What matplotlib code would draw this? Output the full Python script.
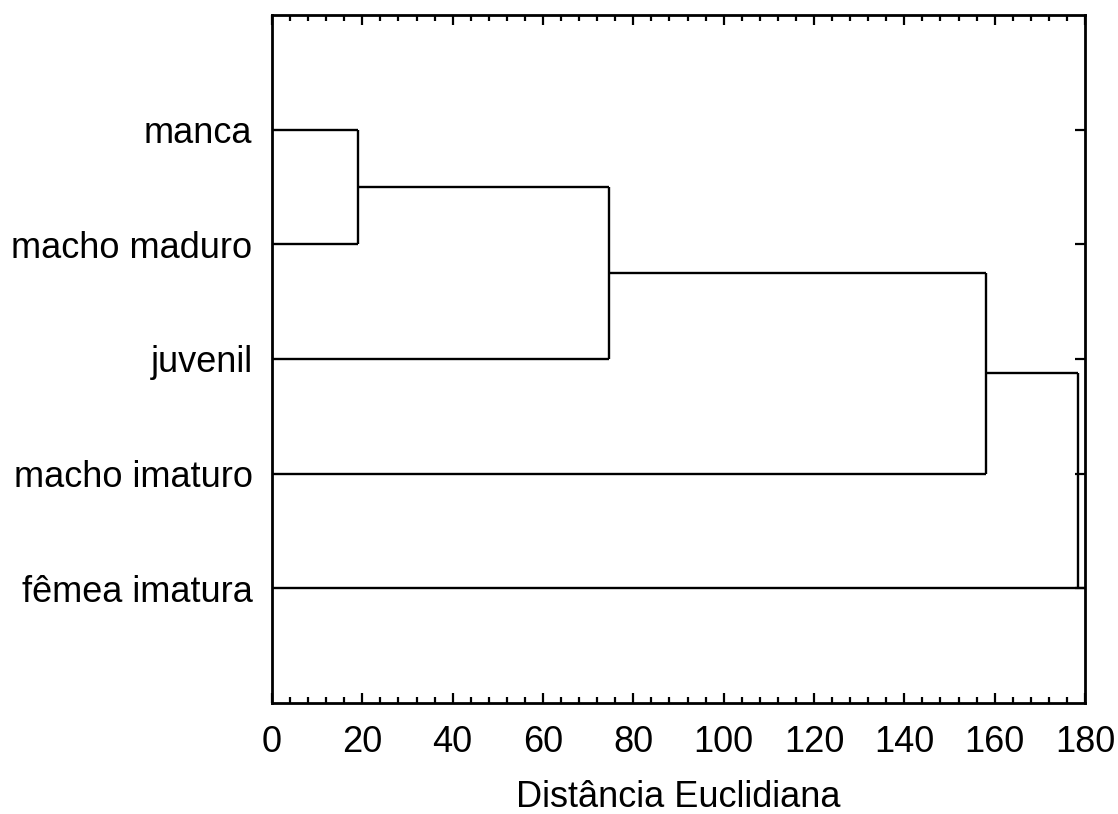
import matplotlib.pyplot as plt
from matplotlib.ticker import MultipleLocator

# ── Daten ────────────────────────────────────────────────────────────────────
labels = ["manca", "macho maduro", "juvenil", "macho imaturo", "fêmea imatura"]
# Fusionshöhen (Distância Euclidiana), Kette: jede Stufe nimmt das nächste Blatt auf
merge_heights = [19.0, 74.5, 158.0, 178.5]
X_MAX = 180

plt.rcParams["font.family"] = ["Liberation Sans", "DejaVu Sans"]

fig = plt.figure(figsize=(11.18, 8.14), dpi=100)
ax = fig.add_axes([0.2433, 0.1364, 0.9705 - 0.2433, 0.9816 - 0.1364])

LW = 1.7
pos = list(range(1, len(labels) + 1))

# Cluster-Kette zeichnen
cur_y, cur_x = pos[0], 0.0
for i, h in enumerate(merge_heights):
    leaf_y = pos[i + 1]
    # aktueller Cluster -> Fusionshöhe
    ax.plot([cur_x, h], [cur_y, cur_y], color="black", lw=LW, solid_capstyle="butt")
    # neues Blatt -> Fusionshöhe (letztes Blatt bis zum Achsenende)
    end = X_MAX if i == len(merge_heights) - 1 else h
    ax.plot([0, end], [leaf_y, leaf_y], color="black", lw=LW, solid_capstyle="butt")
    ax.plot([h, h], [cur_y, leaf_y], color="black", lw=LW, solid_capstyle="butt")
    cur_y, cur_x = (cur_y + leaf_y) / 2, h

ax.set_xlim(0, X_MAX)
ax.set_ylim(len(labels) + 1, 0)

ax.xaxis.set_major_locator(MultipleLocator(20))
ax.xaxis.set_minor_locator(MultipleLocator(4))
ax.set_yticks(pos)
ax.set_yticklabels(labels)

ax.tick_params(axis="x", which="major", direction="in", length=7, width=1.6,
               top=True, labelsize=26, pad=16)
ax.tick_params(axis="x", which="minor", direction="in", length=4, width=1.6, top=True)
ax.tick_params(axis="y", which="major", direction="in", length=7, width=1.6,
               left=False, right=True, labelsize=26, pad=14)

for spine in ax.spines.values():
    spine.set_linewidth(2.0)

ax.set_xlabel("Distância Euclidiana", fontsize=26, labelpad=14)

plt.savefig("out.png", dpi=100)
